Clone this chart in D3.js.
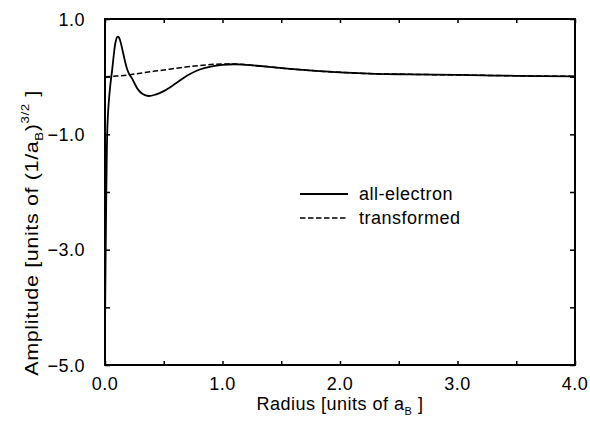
<!DOCTYPE html>
<html><head><meta charset="utf-8">
<script src="https://cdn.jsdelivr.net/npm/d3@7"></script>
<style>body{margin:0;background:#fff}svg{display:block}text{font-family:"Liberation Sans",Arial,sans-serif;fill:#000}</style>
</head><body>
<script>
const allElectronR = [0.000,0.005,0.010,0.015,0.020,0.030,0.045,0.060,0.075,0.090,0.105,0.115,0.130,0.150,0.170,0.190,0.210,0.230,0.250,0.280,0.320,0.370,0.430,0.500,0.600,0.700,0.800,0.900,1.000,1.100,1.200,1.400,1.600,1.800,2.000,2.300,2.600,3.000,3.500,4.000];
const allElectronV = [-4.40,-3.20,-2.20,-1.40,-0.90,-0.50,-0.15,0.10,0.38,0.60,0.69,0.69,0.62,0.45,0.27,0.12,0.03,-0.03,-0.11,-0.22,-0.30,-0.335,-0.31,-0.25,-0.12,0.02,0.12,0.175,0.205,0.215,0.205,0.17,0.13,0.10,0.075,0.05,0.04,0.03,0.015,0.005];
const transformedR = [0.00,0.10,0.20,0.30,0.40,0.50,0.60,0.70,0.80,0.90,1.00,1.10,1.20,1.40,1.60,1.80,2.00,2.30,2.60,3.00,3.50,4.00];
const transformedV = [0.00,0.01,0.03,0.06,0.09,0.115,0.145,0.17,0.19,0.21,0.22,0.22,0.205,0.17,0.13,0.10,0.075,0.05,0.04,0.03,0.015,0.005];
const xTicks = [0,0.5,1,1.5,2,2.5,3,3.5,4];
const xLabels = [0,1,2,3,4];
const yTicks = [1,0,-1,-2,-3,-4,-5];
const yLabels = [1,-1,-3,-5];
const legendNames = ["all-electron","transformed"];

const W=590,H=421;
const m={l:105,r:15,t:19,b:56};
const FS=18, LS="0.5px";
const svg=d3.select("body").append("svg").attr("width",W).attr("height",H);
const x=d3.scaleLinear().domain([0,4]).range([m.l,W-m.r]);
const y=d3.scaleLinear().domain([-5,1]).range([H-m.b,m.t]);
const fmt=d3.format(".1f");

const line=d3.line().x(d=>x(d[0])).y(d=>y(d[1])).curve(d3.curveCatmullRom.alpha(0.5));
const g=svg.append("g");
g.append("defs").append("clipPath").attr("id","clip").append("rect")
 .attr("x",m.l).attr("y",m.t).attr("width",W-m.r-m.l).attr("height",H-m.b-m.t);
g.append("path").datum(transformedR.map((r,i)=>[r,transformedV[i]]))
 .attr("d",line).attr("fill","none").attr("stroke","#000").attr("stroke-width",1.5)
 .attr("stroke-dasharray","5.5,2.5").attr("clip-path","url(#clip)");
g.append("path").datum(allElectronR.map((r,i)=>[r,allElectronV[i]]))
 .attr("d",line).attr("fill","none").attr("stroke","#000").attr("stroke-width",1.8)
 .attr("clip-path","url(#clip)");

// axes with inward ticks
const bx=svg.append("g").attr("transform",`translate(0,${H-m.b})`)
 .call(d3.axisBottom(x).tickValues(xTicks).tickSize(-4).tickFormat(""));
const tx=svg.append("g").attr("transform",`translate(0,${m.t})`)
 .call(d3.axisTop(x).tickValues(xTicks).tickSize(-4).tickFormat(""));
const ly=svg.append("g").attr("transform",`translate(${m.l},0)`)
 .call(d3.axisLeft(y).tickValues(yTicks).tickSize(-5).tickFormat(""));
const ry=svg.append("g").attr("transform",`translate(${W-m.r},0)`)
 .call(d3.axisRight(y).tickValues(yTicks).tickSize(-5).tickFormat(""));
[bx,tx,ly,ry].forEach(a=>{a.select(".domain").remove();a.selectAll("line").attr("stroke","#000").attr("stroke-width",1.5);});
svg.append("rect").attr("x",m.l).attr("y",m.t).attr("width",W-m.r-m.l).attr("height",H-m.b-m.t)
 .attr("fill","none").attr("stroke","#000").attr("stroke-width",2);

// labels
svg.selectAll(".xl").data(xLabels).enter().append("text")
 .attr("x",d=>x(d)).attr("y",H-m.b+25).attr("text-anchor","middle").attr("font-size",FS).attr("letter-spacing",LS).text(fmt);
svg.selectAll(".yl").data(yLabels).enter().append("text")
 .attr("x",m.l-20).attr("y",d=>y(d)+6.5).attr("text-anchor","end").attr("font-size",FS).attr("letter-spacing",LS).text(fmt);

const xt=svg.append("text").attr("x",(m.l+W-m.r)/2).attr("y",410).attr("text-anchor","middle").attr("font-size",FS).attr("letter-spacing",LS);
xt.append("tspan").text("Radius [units of a");
xt.append("tspan").attr("font-size",11).attr("dy",5).text("B");
xt.append("tspan").attr("dy",-5).text(" ]");

const yt=svg.append("text").attr("transform","translate(38,233) rotate(-90) scale(1.2,1)").attr("text-anchor","middle").attr("font-size",FS).attr("letter-spacing",LS);
yt.append("tspan").text("Amplitude [units of (1/a");
yt.append("tspan").attr("font-size",11).attr("dy",5).text("B");
yt.append("tspan").attr("dy",-5).text(")");
yt.append("tspan").attr("font-size",11).attr("dy",-9).text("3/2");
yt.append("tspan").attr("dy",9).text(" ]");

// legend
const lg=svg.append("g");
legendNames.forEach((n,i)=>{
 const yy=194+i*24;
 lg.append("line").attr("x1",300).attr("x2",348).attr("y1",yy).attr("y2",yy)
  .attr("stroke","#000").attr("stroke-width",i?1.5:1.8).attr("stroke-dasharray",i?"5.5,2.5":null);
 lg.append("text").attr("x",359).attr("y",yy+6).attr("font-size",FS).attr("letter-spacing",LS).text(n);
});
</script>
</body></html>
